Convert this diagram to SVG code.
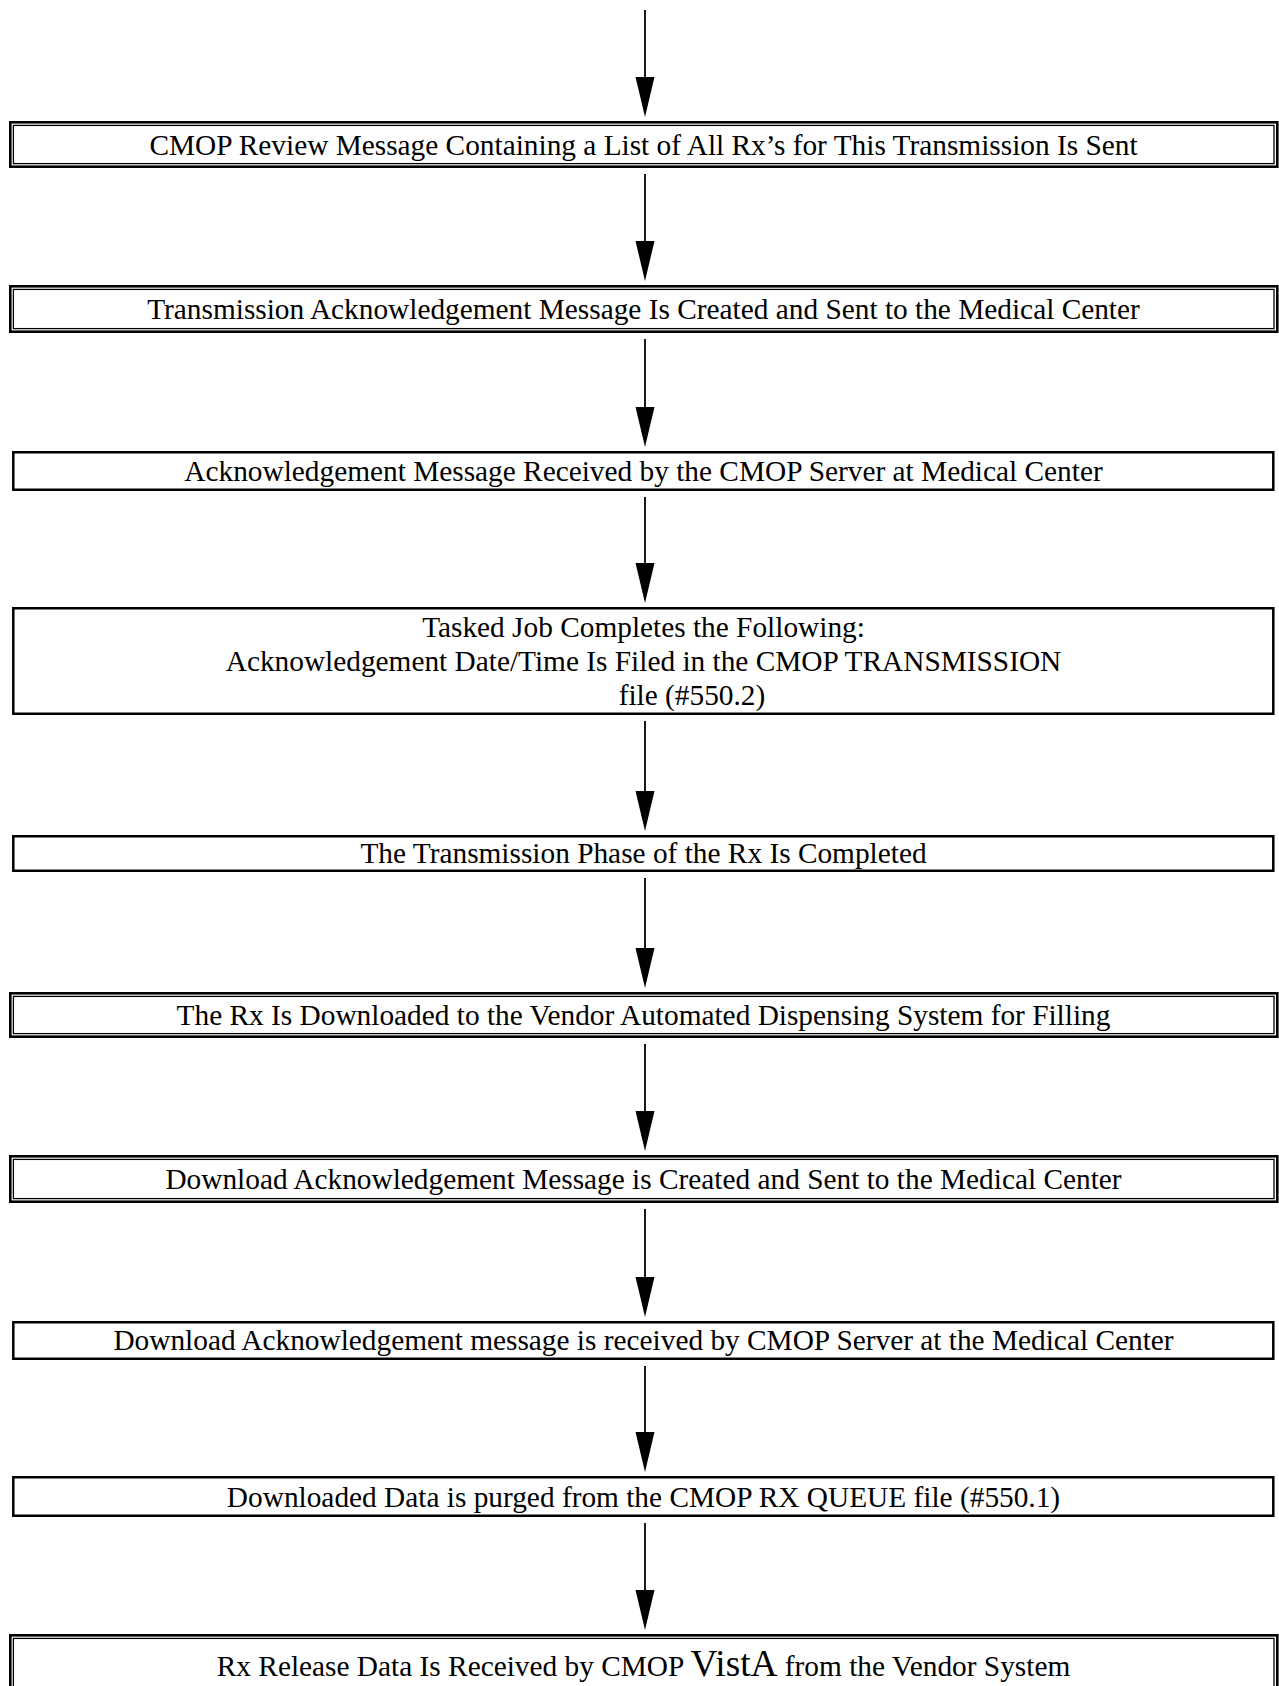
<svg xmlns="http://www.w3.org/2000/svg" width="1279" height="1686" viewBox="0 0 1279 1686">
<style>
  .bg { fill: #ffffff; }
  .single { fill: none; stroke: #000; stroke-width: 2.5; }
  .outer { fill: none; stroke: #000; stroke-width: 2.6; }
  .inner { fill: none; stroke: #000; stroke-width: 1.3; }
  .lbl { font-family: "Liberation Serif", "Times New Roman", serif; font-size: 29.33px; fill: #000; text-anchor: middle; }
  .big { font-size: 37.33px; }
  .conn { stroke: #1a1a1a; stroke-width: 2; fill: none; }
  .head { fill: #000; stroke: none; }
</style>
<rect class="bg" x="0" y="0" width="1279" height="1686"/>

<g id="connectors">
  <line class="conn" x1="645" y1="10" x2="645" y2="80"/>
  <polygon class="head" points="635.5,77 654.5,77 645,117"/>
  <line class="conn" x1="645" y1="174" x2="645" y2="244"/>
  <polygon class="head" points="635.5,241 654.5,241 645,281"/>
  <line class="conn" x1="645" y1="339" x2="645" y2="410"/>
  <polygon class="head" points="635.5,407 654.5,407 645,447"/>
  <line class="conn" x1="645" y1="497" x2="645" y2="566"/>
  <polygon class="head" points="635.5,563 654.5,563 645,603"/>
  <line class="conn" x1="645" y1="721" x2="645" y2="794"/>
  <polygon class="head" points="635.5,791 654.5,791 645,831"/>
  <line class="conn" x1="645" y1="878" x2="645" y2="951"/>
  <polygon class="head" points="635.5,948 654.5,948 645,988"/>
  <line class="conn" x1="645" y1="1044" x2="645" y2="1114"/>
  <polygon class="head" points="635.5,1111 654.5,1111 645,1151"/>
  <line class="conn" x1="645" y1="1209" x2="645" y2="1280"/>
  <polygon class="head" points="635.5,1277 654.5,1277 645,1317"/>
  <line class="conn" x1="645" y1="1366" x2="645" y2="1435"/>
  <polygon class="head" points="635.5,1432 654.5,1432 645,1472"/>
  <line class="conn" x1="645" y1="1523" x2="645" y2="1593"/>
  <polygon class="head" points="635.5,1590 654.5,1590 645,1630"/>
</g>

<g id="node1">
  <rect class="outer" x="10.3" y="122.3" width="1267" height="44.4"/>
  <rect class="inner" x="13.4" y="125.4" width="1260.6" height="38.2"/>
  <text class="lbl" x="643.5" y="154.5">CMOP Review Message Containing a List of All Rx’s for This Transmission Is Sent</text>
</g>

<g id="node2">
  <rect class="outer" x="10.3" y="286.3" width="1267" height="45.4"/>
  <rect class="inner" x="13.4" y="289.4" width="1260.6" height="39.2"/>
  <text class="lbl" x="643.5" y="319">Transmission Acknowledgement Message Is Created and Sent to the Medical Center</text>
</g>

<g id="node3">
  <rect class="single" x="13.3" y="452.25" width="1260" height="37.5"/>
  <text class="lbl" x="643.5" y="481">Acknowledgement Message Received by the CMOP Server at Medical Center</text>
</g>

<g id="node4">
  <rect class="single" x="13.3" y="608.25" width="1260" height="105.5"/>
  <text class="lbl" x="643.5" y="637">Tasked Job Completes the Following:</text>
  <text class="lbl" x="643.5" y="671">Acknowledgement Date/Time Is Filed in the CMOP TRANSMISSION</text>
  <text class="lbl" x="692" y="705">file (#550.2)</text>
</g>

<g id="node5">
  <rect class="single" x="13.3" y="836.25" width="1260" height="34.5"/>
  <text class="lbl" x="643.5" y="863">The Transmission Phase of the Rx Is Completed</text>
</g>

<g id="node6">
  <rect class="outer" x="10.3" y="993.3" width="1267" height="43.4"/>
  <rect class="inner" x="13.4" y="996.4" width="1260.6" height="37.2"/>
  <text class="lbl" x="643.5" y="1025">The Rx Is Downloaded to the Vendor Automated Dispensing System for Filling</text>
</g>

<g id="node7">
  <rect class="outer" x="10.3" y="1156.3" width="1267" height="45.4"/>
  <rect class="inner" x="13.4" y="1159.4" width="1260.6" height="39.2"/>
  <text class="lbl" x="643.5" y="1189">Download Acknowledgement Message is Created and Sent to the Medical Center</text>
</g>

<g id="node8">
  <rect class="single" x="13.3" y="1322.25" width="1260" height="36.5"/>
  <text class="lbl" x="643.5" y="1350">Download Acknowledgement message is received by CMOP Server at the Medical Center</text>
</g>

<g id="node9">
  <rect class="single" x="13.3" y="1477.25" width="1260" height="38.5"/>
  <text class="lbl" x="643.5" y="1506.5">Downloaded Data is purged from the CMOP RX QUEUE file (#550.1)</text>
</g>

<g id="node10">
  <rect class="outer" x="10.3" y="1635.3" width="1267" height="100"/>
  <rect class="inner" x="13.4" y="1638.4" width="1260.6" height="94"/>
  <text class="lbl" x="643.5" y="1676">Rx Release Data Is Received by CMOP <tspan class="big">VistA</tspan> from the Vendor System</text>
</g>
</svg>
